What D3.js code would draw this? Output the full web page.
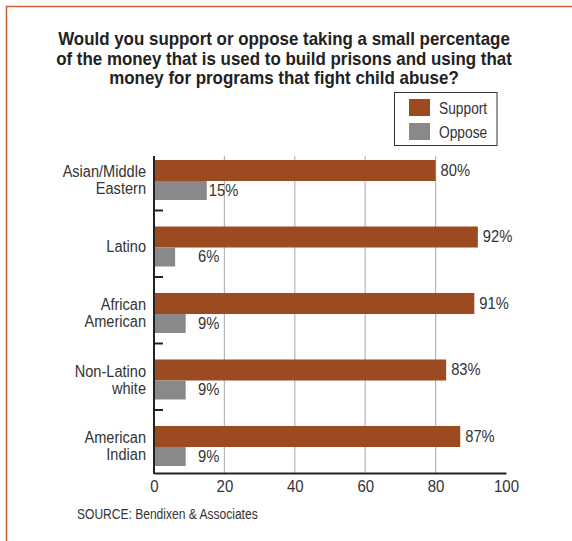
<!DOCTYPE html>
<html>
<head>
<meta charset="utf-8">
<script src="https://cdn.jsdelivr.net/npm/d3@7"></script>
<style>
  html, body { margin: 0; padding: 0; background: #fff; }
  svg { display: block; }
  text { font-family: "Liberation Sans", Arial, sans-serif; }
</style>
</head>
<body>
<svg id="chart" width="572" height="541"></svg>
<script>
// Survey groups and responses (percent)
const groups = ["Asian/Middle Eastern", "Latino", "African American", "Non-Latino white", "American Indian"];
const groupLines = [["Asian/Middle", "Eastern"], ["Latino"], ["African", "American"], ["Non-Latino", "white"], ["American", "Indian"]];
const support = [80, 92, 91, 83, 87];
const oppose = [15, 6, 9, 9, 9];
const xTicks = [0, 20, 40, 60, 80, 100];
const seriesNames = ["Support", "Oppose"];
const titleLines = [
  "Would you support or oppose taking a small percentage",
  "of the money that is used to build prisons and using that",
  "money for programs that fight child abuse?"
];
const sourceText = "SOURCE: Bendixen & Associates";

const colors = { Support: "#9c4b20", Oppose: "#898989" };
const svg = d3.select("#chart");

// narrow the glyphs horizontally to get a condensed face
function condense(sel, k) {
  sel.each(function () {
    const w = this.getComputedTextLength();
    d3.select(this).attr("textLength", w * k).attr("lengthAdjust", "spacingAndGlyphs");
  });
}

// page frame: rule along the top and the left side
svg.append("line").attr("x1", 6).attr("x2", 572).attr("y1", 6.5).attr("y2", 6.5)
  .attr("stroke", "#c4622f").attr("stroke-width", 1.5);
svg.append("line").attr("x1", 6.5).attr("x2", 6.5).attr("y1", 6).attr("y2", 541)
  .attr("stroke", "#c4622f").attr("stroke-width", 1.5);

// title
const title = svg.append("g").selectAll("text").data(titleLines).join("text")
  .attr("x", 284).attr("y", (d, i) => 45 + i * 19.5)
  .attr("text-anchor", "middle")
  .attr("font-size", 19).attr("font-weight", "bold").attr("fill", "#222")
  .text(d => d);
condense(title, 0.89);

const x = d3.scaleLinear().domain([0, 100]).range([154, 506]);
const y = d3.scaleBand().domain(groups).range([144, 476.5]);
const barH = 20, barOff = 16;
const axisY = 473;

// vertical gridlines
svg.append("g").selectAll("line").data(xTicks.filter(t => t > 0 && t < 100)).join("line")
  .attr("x1", d => x(d)).attr("x2", d => x(d))
  .attr("y1", 156).attr("y2", axisY)
  .attr("stroke", "#b5b5b5").attr("stroke-width", 1.2);

// bars
const rows = groups.map((g, i) => ({ g, i, s: support[i], o: oppose[i] }));
const barG = svg.append("g");
barG.selectAll("rect.s").data(rows).join("rect").attr("class", "s")
  .attr("x", x(0)).attr("y", d => y(d.g) + barOff)
  .attr("width", d => x(d.s) - x(0)).attr("height", barH + 1)
  .attr("fill", colors.Support);
barG.selectAll("rect.o").data(rows).join("rect").attr("class", "o")
  .attr("x", x(0)).attr("y", d => y(d.g) + barOff + barH + 1)
  .attr("width", d => x(d.o) - x(0)).attr("height", barH - 1)
  .attr("fill", colors.Oppose);

// value labels
const sLab = barG.selectAll("text.s").data(rows).join("text").attr("class", "s")
  .attr("x", d => x(d.s) + 5).attr("y", d => y(d.g) + barOff + barH / 2 + 5.5)
  .attr("font-size", 16).attr("fill", "#333").text(d => d.s + "%");
const oLab = barG.selectAll("text.o").data(rows).join("text").attr("class", "o")
  .attr("x", d => Math.max(x(d.o) + 2, x(12.5))).attr("y", d => y(d.g) + barOff + barH * 1.5 + 5.5)
  .attr("font-size", 16).attr("fill", "#333").text(d => d.o + "%");
condense(sLab, 0.92);
condense(oLab, 0.92);

// category labels, one text per line
const catG = svg.append("g");
rows.forEach((d, i) => {
  const lines = groupLines[i];
  const cy = y(d.g) + barOff + barH;
  lines.forEach((ln, k) => {
    catG.append("text").attr("text-anchor", "end").attr("font-size", 16).attr("fill", "#333")
      .attr("x", 146)
      .attr("y", cy + 5.5 + (k - (lines.length - 1) / 2) * 17)
      .text(ln);
  });
});
condense(catG.selectAll("text"), 0.91);

// y axis with short ticks between groups
svg.append("line").attr("x1", x(0)).attr("x2", x(0)).attr("y1", 156).attr("y2", axisY + 1)
  .attr("stroke", "#222").attr("stroke-width", 2);
svg.append("g").selectAll("line").data(groups.slice(0, -1)).join("line")
  .attr("x1", x(0)).attr("x2", x(0) + 9)
  .attr("y1", d => y(d) + y.step()).attr("y2", d => y(d) + y.step())
  .attr("stroke", "#222").attr("stroke-width", 2);

// x axis
const xAxis = d3.axisBottom(x).tickValues(xTicks).tickSize(0).tickPadding(7);
const xg = svg.append("g").attr("transform", `translate(0,${axisY})`).call(xAxis);
xg.select(".domain").attr("stroke", "#222").attr("stroke-width", 2);
xg.selectAll("text").attr("font-size", 17).attr("fill", "#333")
  .style("font-family", '"Liberation Sans", Arial, sans-serif');
condense(xg.selectAll("text"), 0.88);

// legend
const lg = svg.append("g");
lg.append("rect").attr("x", 394.5).attr("y", 92.5).attr("width", 102.5).attr("height", 53)
  .attr("fill", "#fff").attr("stroke", "#333").attr("stroke-width", 1);
seriesNames.forEach((n, i) => {
  lg.append("rect").attr("x", 409).attr("y", 99 + i * 24).attr("width", 21).attr("height", 17)
    .attr("fill", colors[n]);
  lg.append("text").attr("x", 439).attr("y", 113.5 + i * 24)
    .attr("font-size", 16).attr("fill", "#333").text(n);
});
condense(lg.selectAll("text"), 0.86);

// source note
const src = svg.append("text").attr("x", 77).attr("y", 519).attr("font-size", 14).attr("fill", "#333").text(sourceText);
condense(src, 0.86);
</script>
</body>
</html>
